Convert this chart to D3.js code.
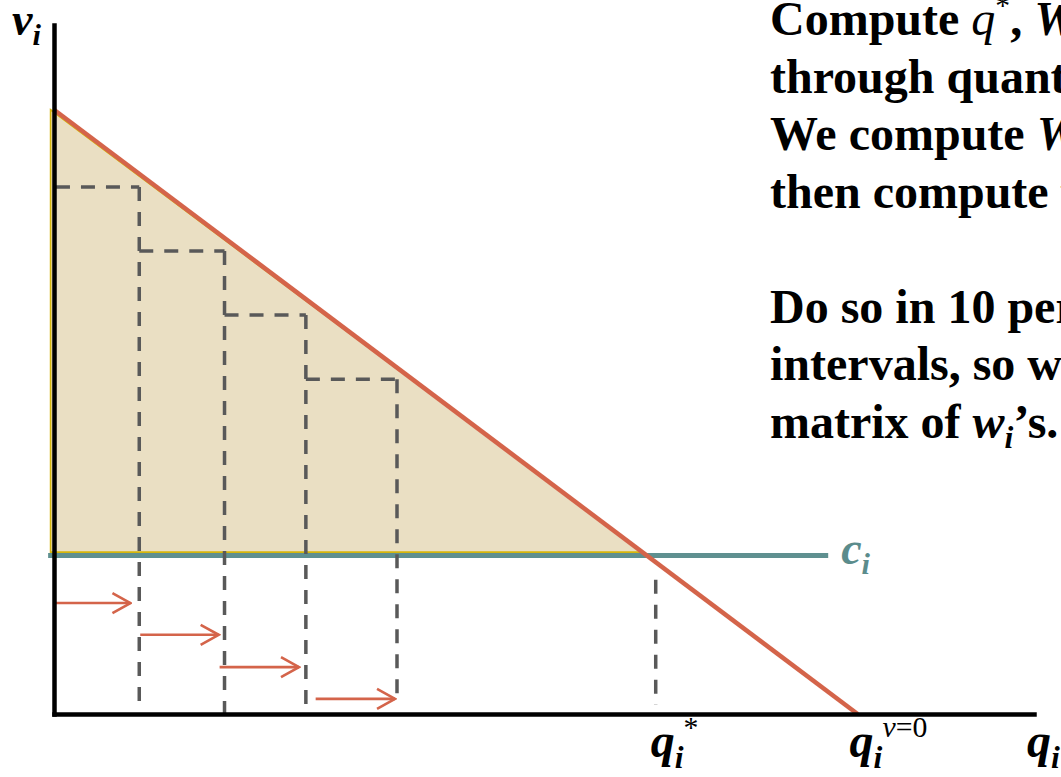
<!DOCTYPE html>
<html lang="en">
<head>
	<meta charset="UTF-8"/>
	<title>Stepping through quantities</title>
	<script src="https://d3js.org/d3.v7.min.js"></script>
	<style>
		body { margin: 0; background: #fff; overflow: hidden; }
		svg { display: block; }
	</style>
</head>
<body>
	<script>

	var w = 1061;
	var h = 777;

	// demand curve v(q): endpoints (axis units 0..100)
	var demandQ = [0, 82];
	var demandV = [87.7, 0];

	// marginal cost c_i
	var costV = 23.0;
	var costQ = [-0.6, 79.0];

	// shaded surplus area (bottom edge slightly above cost line)
	var fillQ = [-0.35, 60.0, -0.35];
	var fillV = [87.7, 23.5, 23.5];

	// the dashed steps under the demand curve
	var stepQ = [8.7, 17.4, 25.7, 35.0];
	var stepV = [76.5, 67.2, 57.9, 48.6];
	var stepBottom = [1.0, 0, 0, 1.6];

	// q* drop line
	var qStar = 61.4;
	var qStarV = [19.5, 1.3];

	// intercept on quantity axis
	var qZero = 82;

	// little arrows along the bottom
	var arrowFrom = [0, 8.8, 16.9, 26.7];
	var arrowTo = [7.8, 16.8, 25.0, 34.8];
	var arrowV = [16.1, 11.5, 6.8, 2.2];

	// text on the right, one array per line: [text, kind]
	var textLines = [
		[["Compute ", "n"], ["q", "m"], ["*", "sup"], [", ", "n"], ["W", "i"], ["i", "sub"], [", and ", "n"], ["w", "i"], ["i", "sub"], [" stepping", "n"]],
		[["through quantities.", "n"]],
		[["We compute  ", "n"], ["W", "i"], ["i", "sub"], [" first,", "n"]],
		[["then compute ", "n"], ["w", "i"], ["i", "sub"], [".", "n"]],
		[],
		[["Do so in 10 percentile", "n"]],
		[["intervals, so we get a", "n"]],
		[["matrix of ", "n"], ["w", "i"], ["i", "sub"], ["\u2019s.", "n"]]
	];

	var xScale = d3.scaleLinear().domain([0, 100]).range([54, 1034]);
	var yScale = d3.scaleLinear().domain([0, 100]).range([714, 25]);

	var svg = d3.select("body")
				.append("svg")
				.attr("width", w)
				.attr("height", h);

	// arrow head
	svg.append("defs").append("marker")
		.attr("id", "head")
		.attr("markerUnits", "userSpaceOnUse")
		.attr("viewBox", "0 0 22 24")
		.attr("markerWidth", 22)
		.attr("markerHeight", 24)
		.attr("refX", 20)
		.attr("refY", 12)
		.attr("orient", "auto")
		.append("path")
		.attr("d", "M2,2 L20,12 L2,22")
		.attr("fill", "none")
		.attr("stroke", "#D4644A")
		.attr("stroke-width", 2.6);

	// shaded triangle
	var fillPts = fillQ.map(function(q, i){ return [xScale(q), yScale(fillV[i])]; });
	svg.append("path")
		.attr("d", d3.line()(fillPts) + "Z")
		.attr("fill", "#EADFC3")
		.attr("stroke", "#D6B60C")
		.attr("stroke-width", 1.6);

	// cost line
	svg.append("line")
		.attr("x1", xScale(costQ[0]))
		.attr("x2", xScale(costQ[1]))
		.attr("y1", yScale(costV))
		.attr("y2", yScale(costV))
		.attr("stroke", "#5F9090")
		.attr("stroke-width", 5);

	// dashed steps
	var dash = svg.append("g")
		.attr("stroke", "#595959")
		.attr("stroke-width", 3.5)
		.attr("stroke-dasharray", "14,11")
		.attr("fill", "none");

	dash.selectAll(".hstep")
		.data(stepQ)
		.enter()
		.append("line")
		.attr("x1", function(d, i){ return xScale(i == 0 ? 0.2 : stepQ[i - 1]); })
		.attr("x2", function(d){ return xScale(d); })
		.attr("y1", function(d, i){ return yScale(stepV[i]); })
		.attr("y2", function(d, i){ return yScale(stepV[i]); });

	dash.selectAll(".vstep")
		.data(stepQ)
		.enter()
		.append("line")
		.attr("x1", function(d){ return xScale(d); })
		.attr("x2", function(d){ return xScale(d); })
		.attr("y1", function(d, i){ return yScale(stepV[i]); })
		.attr("y2", function(d, i){ return yScale(stepBottom[i]); });

	dash.append("line")
		.attr("x1", xScale(qStar))
		.attr("x2", xScale(qStar))
		.attr("y1", yScale(qStarV[0]))
		.attr("y2", yScale(qStarV[1]));

	// demand line
	svg.append("line")
		.attr("x1", xScale(demandQ[0]))
		.attr("y1", yScale(demandV[0]))
		.attr("x2", xScale(demandQ[1]))
		.attr("y2", yScale(demandV[1]))
		.attr("stroke", "#D4644A")
		.attr("stroke-width", 4.5);

	// arrows
	svg.selectAll(".arrow")
		.data(arrowFrom)
		.enter()
		.append("line")
		.attr("x1", function(d){ return xScale(d); })
		.attr("x2", function(d, i){ return xScale(arrowTo[i]); })
		.attr("y1", function(d, i){ return yScale(arrowV[i]); })
		.attr("y2", function(d, i){ return yScale(arrowV[i]); })
		.attr("stroke", "#D4644A")
		.attr("stroke-width", 2.6)
		.attr("marker-end", "url(#head)");

	// axes: plain lines, no ticks
	var xAxis = d3.axisBottom(xScale).tickValues([]).tickSizeOuter(0);
	var yAxis = d3.axisLeft(yScale).tickValues([]).tickSizeOuter(0);

	svg.append("g")
		.attr("transform", "translate(0," + yScale(0) + ")")
		.call(xAxis)
		.select(".domain")
		.attr("stroke", "#000")
		.attr("stroke-width", 4.5)
		.attr("stroke-linecap", "square");

	svg.append("g")
		.attr("transform", "translate(" + xScale(0) + ",0)")
		.call(yAxis)
		.select(".domain")
		.attr("stroke", "#000")
		.attr("stroke-width", 4.5)
		.attr("stroke-linecap", "square");

	// builds a label out of main / sub / sup parts
	function label(x, y, parts, size, color, weight) {
		var t = svg.append("text")
			.attr("x", x)
			.attr("y", y)
			.attr("font-family", "Liberation Serif, serif")
			.attr("font-size", size)
			.attr("font-weight", weight)
			.attr("fill", color);
		var shift = 0;
		parts.forEach(function(p){
			var dy = 0;
			var s = t.append("tspan").text(p[0]);
			if (p[1] == "sub") { dy = size * 0.22; s.attr("font-size", size * 0.66).attr("font-style", "italic"); }
			else if (p[1] == "sup") { dy = -size * 0.42; s.attr("font-size", size * 0.62).attr("font-weight", "normal"); }
			else if (p[1] == "supi") { dy = -size * 0.42; s.attr("font-size", size * 0.62).attr("font-style", "italic").attr("font-weight", "normal"); }
			else if (p[1] == "i") { s.attr("font-style", "italic"); }
			else if (p[1] == "m") { s.attr("font-style", "italic").attr("font-weight", "normal"); }
			s.attr("dy", dy - shift);
			shift = dy;
		});
		return t;
	}

	// axis labels
	label(12, 35, [["v", "i"], ["i", "sub"]], 46, "#000", "bold");
	label(xScale(costQ[1]) + 13, yScale(costV) + 8, [["c", "i"], ["i", "sub"]], 46, "#5B8C8C", "bold");
	label(xScale(qStar) - 5, 757, [["q", "i"], ["i", "sub"], ["*", "sup"]], 48, "#000", "bold");
	label(xScale(qZero) - 8, 757, [["q", "i"], ["i", "sub"], ["v", "supi"], ["=0", "sup"]], 48, "#000", "bold");
	label(1027, 757, [["q", "i"], ["i", "sub"]], 48, "#000", "bold");

	// text block on the right
	textLines.forEach(function(line, k){
		if (line.length == 0) return;
		label(770, 35 + k * 57.5, line, 48, "#000", "bold");
	});

	</script>
</body>
</html>
